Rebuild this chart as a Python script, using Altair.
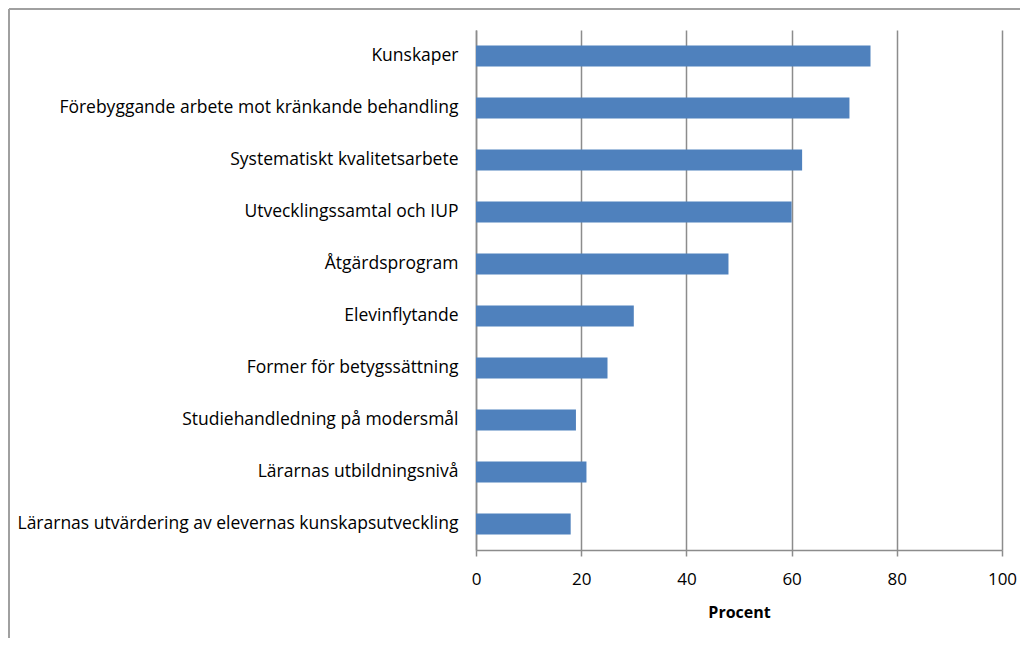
import altair as alt
import pandas as pd

categories = [
    "Kunskaper",
    "Förebyggande arbete mot kränkande behandling",
    "Systematiskt kvalitetsarbete",
    "Utvecklingssamtal och IUP",
    "Åtgärdsprogram",
    "Elevinflytande",
    "Former för betygssättning",
    "Studiehandledning på modersmål",
    "Lärarnas utbildningsnivå",
    "Lärarnas utvärdering av elevernas kunskapsutveckling",
]
values = [75, 71, 62, 60, 48, 30, 25, 19, 21, 18]
x_ticks = [0, 20, 40, 60, 80, 100]

df = pd.DataFrame({"cat": categories, "val": values})

FONT = "Open Sans"

bars = alt.Chart(df).mark_bar(color="#4f81bd").encode(
    y=alt.Y("cat:N", sort=categories,
            scale=alt.Scale(paddingInner=0.6, paddingOuter=0.3),
            axis=alt.Axis(title=None, labelFontSize=17.5, labelFont=FONT,
                          labelColor="#000000", labelPadding=18, ticks=False,
                          domainColor="#8c8c8c", domainWidth=1.5,
                          labelLimit=600)),
    x=alt.X("val:Q", scale=alt.Scale(domain=[0, 100], nice=False),
            axis=alt.Axis(values=x_ticks, title="Procent", titleFont=FONT,
                          titleFontSize=16, titleFontWeight="bold",
                          titleColor="#000000", titlePadding=17,
                          labelFont=FONT, labelFontSize=17, labelColor="#000000",
                          labelPadding=15, labelFlush=False, tickSize=6,
                          tickColor="#8c8c8c",
                          tickWidth=1.5, domainColor="#8c8c8c", domainWidth=1.5,
                          grid=True, gridColor="#8c8c8c", gridWidth=1.5)),
)

frame_top = alt.Chart(df).mark_rule(color="#a0a0a0", strokeWidth=2).encode(
    x=alt.value(-467), x2=alt.value(560), y=alt.value(-21)
)
frame_left = alt.Chart(df).mark_rule(color="#a0a0a0", strokeWidth=2).encode(
    x=alt.value(-467), y=alt.value(-21), y2=alt.value(640)
)

chart = alt.layer(bars, frame_top, frame_left).properties(
    width=526, height=520,
    padding={"left": 468, "top": 22, "right": 18, "bottom": 88},
    autosize=alt.AutoSizeParams(type="none"),
).configure_view(stroke=None)

chart.save("out.html", embed_options={"renderer": "svg", "actions": False})
